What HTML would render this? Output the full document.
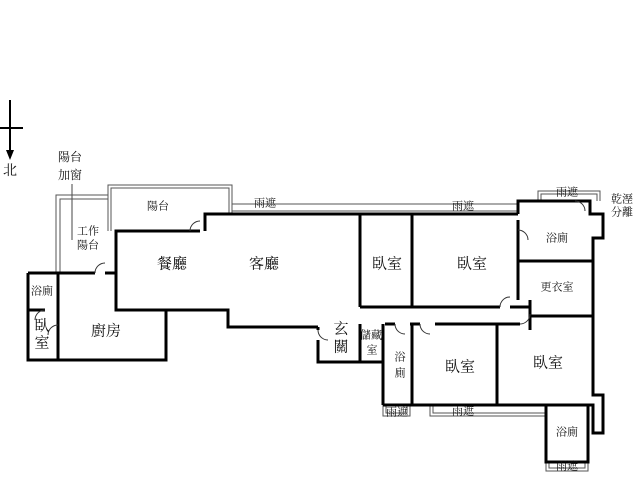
<!DOCTYPE html>
<html><head><meta charset="utf-8"><style>
html,body{margin:0;padding:0;background:#fff;}
svg{display:block}
text{font-family:"Liberation Serif","Noto Serif CJK SC","Noto Sans CJK TC",serif;fill:#111;text-anchor:middle;dominant-baseline:middle}
</style></head><body>
<svg width="635" height="479" viewBox="0 0 635 479" xmlns="http://www.w3.org/2000/svg">
<rect width="635" height="479" fill="#fff"/>
<!-- compass -->
<g stroke="#000" stroke-width="2" fill="none">
<line x1="10" y1="100" x2="10" y2="152"/><line x1="0" y1="128" x2="23" y2="128"/>
</g>
<polygon points="6,150 14,150 10,160" fill="#000"/>
<text x="10" y="172" font-size="14">北</text>
<text x="70" y="158" font-size="12">陽台</text>
<text x="70" y="176" font-size="12">加窗</text>
<line x1="72" y1="184" x2="72" y2="240" stroke="#444" stroke-width="1"/>
<!-- thin double lines (balconies, rain shelters) -->
<g fill="none" stroke="#555" stroke-width="1">
<polyline points="56,273 56,195 108,195"/><polyline points="60,273 60,199 108,199"/>
<polyline points="108,231 108,185 232,185 232,214"/><polyline points="111,231 111,188 229,188 229,214"/>
<polyline points="232,204 518,204"/><polyline points="232,211 518,211"/>
<polyline points="538,201 538,191 600,191 600,201"/><polyline points="541,201 541,194 597,194 597,201"/>
<polyline points="383,405 383,416 410,416 410,405"/><polyline points="386,405 386,413 407,413 407,405"/>
<polyline points="430,405 430,416 546,416"/><polyline points="433,405 433,413 546,413"/>
<polyline points="546,462 546,471 588,471 588,462"/><polyline points="549,462 549,468 585,468 585,462"/>
</g>
<!-- main walls -->
<g fill="none" stroke="#000" stroke-width="3" stroke-linejoin="miter">
<polyline points="200,231 116,231 116,310 166,310"/>
<polyline points="205,231 205,214 518,214"/>
<polyline points="116,310 228,310 228,327 318,327"/>
<polyline points="28,273 95,273"/><line x1="105" y1="273" x2="116" y2="273"/>
<polyline points="28,273 28,360 166,360 166,310"/>
<line x1="58" y1="273" x2="58" y2="360"/>
<line x1="28" y1="310" x2="45" y2="310"/>
<line x1="360" y1="214" x2="360" y2="307"/>
<line x1="412" y1="214" x2="412" y2="307"/>
<polyline points="360,307 500,307"/><line x1="510" y1="307" x2="530" y2="307"/>
<polyline points="518,214 518,201 590,201 590,214 603,214 603,238 593,238 593,395 603,395 603,433 593,433 593,405 546,405"/>
<line x1="518" y1="220" x2="518" y2="300"/>
<line x1="518" y1="261" x2="593" y2="261"/>
<line x1="530" y1="316" x2="593" y2="316"/>
<line x1="530" y1="300" x2="530" y2="330"/>
<polyline points="385,324 395,324"/><line x1="410" y1="324" x2="420" y2="324"/><line x1="435" y1="324" x2="520" y2="324"/>
<line x1="497" y1="324" x2="497" y2="405"/>
<line x1="412" y1="324" x2="412" y2="405"/>
<polyline points="383,405 546,405 546,462 588,462 588,405"/>
<line x1="383" y1="324" x2="383" y2="405"/>
<line x1="360" y1="324" x2="360" y2="362"/>
<polyline points="318,340 318,362 383,362"/>
<line x1="318" y1="327" x2="318" y2="330"/>
</g>
<!-- door arcs -->
<g fill="none" stroke="#333" stroke-width="1">
<path d="M190,231 A10,10 0 0 1 200,221"/><path d="M95,273 A10,10 0 0 1 105,263"/>
<path d="M45,310 A10,10 0 0 0 35,320"/><path d="M58,325 A10,10 0 0 0 48,335"/>
<path d="M518,230 A10,10 0 0 1 528,240"/><path d="M500,307 A10,10 0 0 1 510,297"/>
<path d="M318,330 A10,10 0 0 0 328,340"/><path d="M395,324 A10,10 0 0 0 405,334"/>
<path d="M420,324 A10,10 0 0 0 430,334"/><path d="M520,324 A10,10 0 0 0 530,314"/>
<path d="M575,201 A10,10 0 0 1 585,211"/>
</g>
<g font-size="15">
<text x="172" y="265">餐廳</text><text x="264" y="265">客廳</text>
<text x="387" y="265">臥室</text><text x="472" y="265">臥室</text>
<text x="106" y="332">廚房</text><text x="460" y="368">臥室</text><text x="548" y="364">臥室</text>
<text x="42" y="327">臥</text><text x="42" y="344">室</text>
<text x="341" y="330">玄</text><text x="341" y="348">關</text>
</g>
<g font-size="11">
<text x="158" y="207">陽台</text><text x="88" y="232">工作</text><text x="88" y="246">陽台</text>
<text x="42" y="292">浴廁</text><text x="265" y="204">雨遮</text><text x="463" y="207">雨遮</text>
<text x="567" y="193">雨遮</text><text x="622" y="200">乾溼</text><text x="622" y="213">分離</text>
<text x="557" y="239">浴廁</text><text x="557" y="288">更衣室</text>
<text x="371" y="336">儲藏</text><text x="372" y="351">室</text>
<text x="400" y="358">浴</text><text x="400" y="374">廁</text>
<text x="397" y="413">雨遮</text><text x="463" y="412">雨遮</text>
<text x="567" y="433">浴廁</text><text x="567" y="467">雨遮</text>
</g>
</svg>
</body></html>
